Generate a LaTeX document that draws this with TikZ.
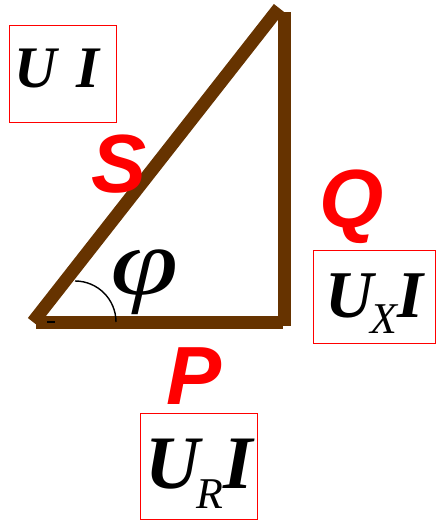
\documentclass[tikz,border=0pt]{standalone}
\usepackage{fontspec}
\setmainfont{Liberation Serif}
\newfontfamily\sansfont{Liberation Sans}
\usepackage{xcolor}
\definecolor{brownline}{RGB}{102,51,0}
\newcommand\lowidx[2]{\kern-2pt\raisebox{-#1}{\mdseries\fontsize{25}{25}\selectfont #2}}

\begin{document}
\begin{tikzpicture}
                    [x=0.02cm, y=0.02cm,
                     side/.style={draw=brownline, line width=7.4pt},
                     redbox/.style={draw=red, line width=0.8pt, inner sep=0pt, anchor=north west, align=center},
                     power/.style={text=red, anchor=base, font=\sansfont\bfseries\itshape\fontsize{47}{47}\selectfont}]
                    \useasboundingbox (0,0) rectangle (436,521);
                    \coordinate (O) at (33,199);
                    \coordinate (R) at (284,198);
                    \coordinate (T) at (279,513);
                    \draw[side] (O) -- (T);
                    \draw[side] (36,198) -- (283,198);
                    \draw[side] (284,195) -- (284,509);
                    \draw[line width=0.8pt] (75,240) arc[start angle=90, end angle=0, radius=41];
                    \draw[line width=1.2pt] (47,199) -- (55,199);
                    \node[inner sep=0pt, font=\itshape\fontsize{54}{54}\selectfont] (phi) at (145,239) {\scalebox{1.3}[1]{φ}};
                    \node[power] (S) at (119,328) {S};
                    \node[power] (Q) at (352,293) {Q};
                    \node[power] (P) at (194,116) {P};
                    \node[redbox, text width=2.14cm, text height=1.24cm, text depth=0.7cm,
                          font=\bfseries\itshape\fontsize{33.5}{33.5}\selectfont] (UI) at (9,496)
                          {\hspace*{-0.24cm}U\hspace{0.4cm}I};
                    \node[redbox, text width=2.44cm, text height=1.34cm, text depth=0.52cm,
                          font=\bfseries\itshape\fontsize{38}{38}\selectfont] (UXI) at (313,271)
                          {U\lowidx{0.32cm}{X}I};
                    \node[redbox, text width=2.34cm, text height=1.5cm, text depth=0.62cm,
                          font=\bfseries\itshape\fontsize{43}{43}\selectfont] (URI) at (140,108)
                          {U\lowidx{0.4cm}{R}I};
                \end{tikzpicture}
\end{document}
